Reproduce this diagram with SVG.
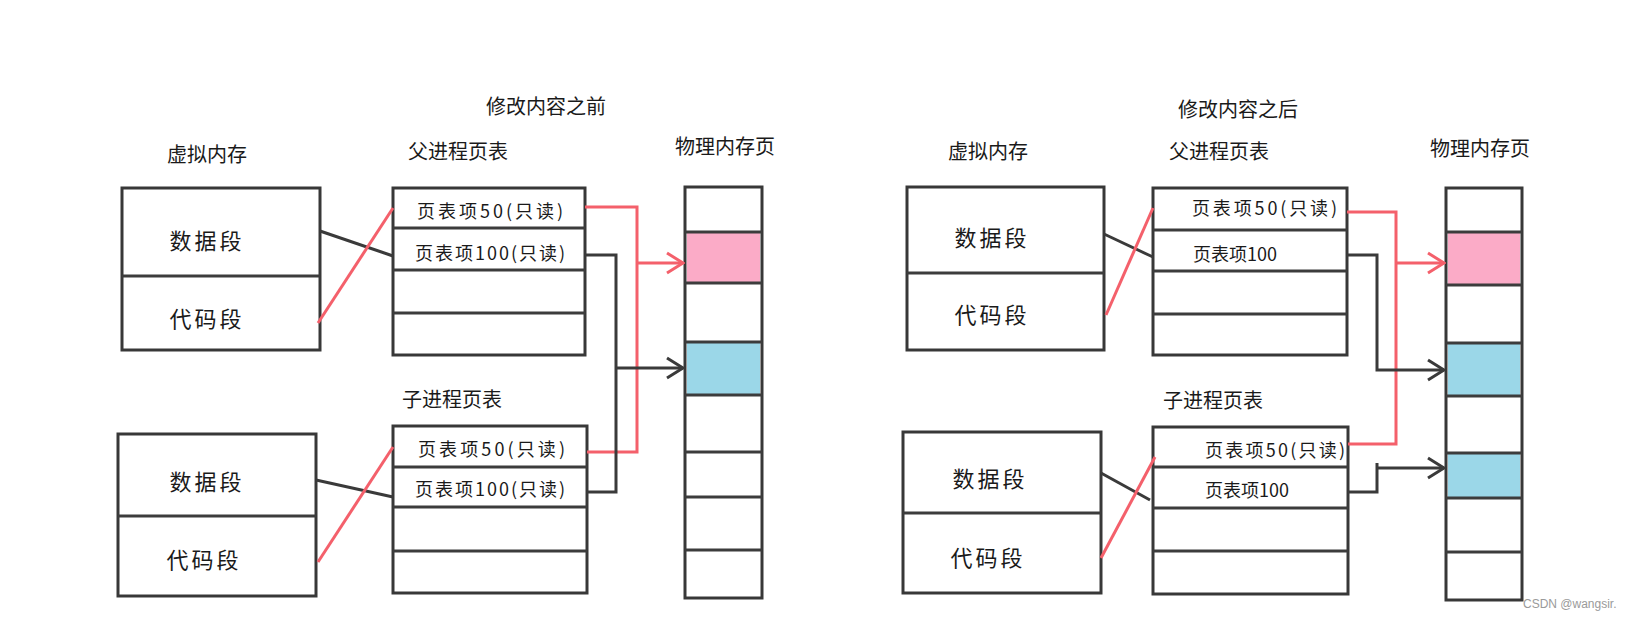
<svg xmlns="http://www.w3.org/2000/svg" width="1638" height="621" viewBox="0 0 1638 621">
<defs>
<style>
.box{fill:#fff;stroke:#383838;stroke-width:3}
.div{stroke:#3c3c3c;stroke-width:3;fill:none}
.t{font-family:"Noto Sans CJK SC","Noto Sans",sans-serif;fill:#1a1a1a;dominant-baseline:central}
.lbl{font-size:20px}
.seg{font-size:22px;letter-spacing:3px;text-anchor:middle}
.ent{font-size:18px}
.blk{stroke:#3a3a3a;stroke-width:3;fill:none}
.red{stroke:#f4606b;stroke-width:3;fill:none}
.pink{fill:#fbabc7}
.blue{fill:#9bd7e8}
</style>
<marker id="ab" viewBox="0 0 20 24" refX="18" refY="12" markerWidth="20" markerHeight="24" markerUnits="userSpaceOnUse" orient="auto">
<polyline points="2,2 18,12 2,22" fill="none" stroke="#3a3a3a" stroke-width="3"/>
</marker>
<marker id="ar" viewBox="0 0 20 24" refX="18" refY="12" markerWidth="20" markerHeight="24" markerUnits="userSpaceOnUse" orient="auto">
<polyline points="2,2 18,12 2,22" fill="none" stroke="#f4606b" stroke-width="3"/>
</marker>
</defs>
<rect width="1638" height="621" fill="#fff"/>

<g id="titles">
<text class="t lbl" x="486" y="105">修改内容之前</text>
<text class="t lbl" x="1178" y="108">修改内容之后</text>
</g>

<g id="vm-before-1">
<text class="t lbl" x="167" y="153">虚拟内存</text>
<rect class="box" x="122" y="188" width="198" height="162"/>
<line class="div" x1="122" y1="276" x2="320" y2="276"/>
<text class="t seg" x="207" y="239">数据段</text>
<text class="t seg" x="207" y="317">代码段</text>
</g>

<g id="pt-before-parent">
<text class="t lbl" x="408" y="150">父进程页表</text>
<rect class="box" x="393" y="188" width="192" height="167"/>
<line class="div" x1="393" y1="228" x2="585" y2="228"/>
<line class="div" x1="393" y1="270" x2="585" y2="270"/>
<line class="div" x1="393" y1="313" x2="585" y2="313"/>
<text class="t ent" x="417" y="210" textLength="146" lengthAdjust="spacing">页表项50(只读)</text>
<text class="t ent" x="415" y="252" textLength="150" lengthAdjust="spacing">页表项100(只读)</text>
</g>

<g id="vm-before-2">
<rect class="box" x="118" y="434" width="198" height="162"/>
<line class="div" x1="118" y1="516" x2="316" y2="516"/>
<text class="t seg" x="207" y="480">数据段</text>
<text class="t seg" x="204" y="558">代码段</text>
</g>

<g id="pt-before-child">
<text class="t lbl" x="402" y="398">子进程页表</text>
<rect class="box" x="393" y="426" width="194" height="167"/>
<line class="div" x1="393" y1="467" x2="587" y2="467"/>
<line class="div" x1="393" y1="507" x2="587" y2="507"/>
<line class="div" x1="393" y1="551" x2="587" y2="551"/>
<text class="t ent" x="418" y="448" textLength="147" lengthAdjust="spacing">页表项50(只读)</text>
<text class="t ent" x="415" y="488" textLength="150" lengthAdjust="spacing">页表项100(只读)</text>
</g>

<g id="phys-before">
<text class="t lbl" x="675" y="145">物理内存页</text>
<rect class="box" x="685" y="187" width="77" height="411"/>
<rect class="pink" x="687" y="232" width="73" height="51"/>
<rect class="blue" x="687" y="342" width="73" height="53"/>
<line class="div" x1="685" y1="232" x2="762" y2="232"/>
<line class="div" x1="685" y1="283" x2="762" y2="283"/>
<line class="div" x1="685" y1="342" x2="762" y2="342"/>
<line class="div" x1="685" y1="395" x2="762" y2="395"/>
<line class="div" x1="685" y1="452" x2="762" y2="452"/>
<line class="div" x1="685" y1="497" x2="762" y2="497"/>
<line class="div" x1="685" y1="550" x2="762" y2="550"/>
</g>

<g id="vm-after-1">
<text class="t lbl" x="948" y="150">虚拟内存</text>
<rect class="box" x="907" y="187" width="197" height="163"/>
<line class="div" x1="907" y1="273" x2="1104" y2="273"/>
<text class="t seg" x="992" y="236">数据段</text>
<text class="t seg" x="992" y="313">代码段</text>
</g>

<g id="pt-after-parent">
<text class="t lbl" x="1169" y="150">父进程页表</text>
<rect class="box" x="1153" y="188" width="194" height="167"/>
<line class="div" x1="1153" y1="230" x2="1347" y2="230"/>
<line class="div" x1="1153" y1="271" x2="1347" y2="271"/>
<line class="div" x1="1153" y1="314" x2="1347" y2="314"/>
<text class="t ent" x="1192" y="207" textLength="145" lengthAdjust="spacing">页表项50(只读)</text>
<text class="t ent" x="1193" y="253">页表项100</text>
</g>

<g id="vm-after-2">
<rect class="box" x="903" y="432" width="198" height="161"/>
<line class="div" x1="903" y1="513" x2="1101" y2="513"/>
<text class="t seg" x="990" y="477">数据段</text>
<text class="t seg" x="988" y="556">代码段</text>
</g>

<g id="pt-after-child">
<text class="t lbl" x="1163" y="399">子进程页表</text>
<rect class="box" x="1153" y="427" width="195" height="167"/>
<line class="div" x1="1153" y1="467" x2="1348" y2="467"/>
<line class="div" x1="1153" y1="508" x2="1348" y2="508"/>
<line class="div" x1="1153" y1="551" x2="1348" y2="551"/>
<text class="t ent" x="1205" y="449" textLength="140" lengthAdjust="spacing">页表项50(只读)</text>
<text class="t ent" x="1205" y="489">页表项100</text>
</g>

<g id="phys-after">
<text class="t lbl" x="1430" y="147">物理内存页</text>
<rect class="box" x="1446" y="188" width="76" height="412"/>
<rect class="pink" x="1448" y="232" width="72" height="53"/>
<rect class="blue" x="1448" y="343" width="72" height="53"/>
<rect class="blue" x="1448" y="453" width="72" height="45"/>
<line class="div" x1="1446" y1="232" x2="1522" y2="232"/>
<line class="div" x1="1446" y1="285" x2="1522" y2="285"/>
<line class="div" x1="1446" y1="343" x2="1522" y2="343"/>
<line class="div" x1="1446" y1="396" x2="1522" y2="396"/>
<line class="div" x1="1446" y1="453" x2="1522" y2="453"/>
<line class="div" x1="1446" y1="498" x2="1522" y2="498"/>
<line class="div" x1="1446" y1="552" x2="1522" y2="552"/>
</g>

<g id="connectors">
<line class="blk" x1="320" y1="231" x2="393" y2="256"/>
<line class="red" x1="318" y1="323" x2="393" y2="208"/>
<line class="blk" x1="316" y1="480" x2="393" y2="497"/>
<line class="red" x1="318" y1="562" x2="393" y2="447"/>
<path class="red" d="M585,207 H637 V452 H587"/>
<line class="red" x1="637" y1="263" x2="683" y2="263" marker-end="url(#ar)"/>
<path class="blk" d="M585,255 H616 V492 H587"/>
<line class="blk" x1="616" y1="368" x2="683" y2="368" marker-end="url(#ab)"/>

<line class="blk" x1="1104" y1="234" x2="1153" y2="257"/>
<line class="red" x1="1106" y1="315" x2="1153" y2="208"/>
<line class="blk" x1="1101" y1="473" x2="1150" y2="500"/>
<line class="red" x1="1101" y1="558" x2="1155" y2="457"/>
<path class="red" d="M1347,212 H1396 V444 H1348"/>
<line class="red" x1="1396" y1="263" x2="1444" y2="263" marker-end="url(#ar)"/>
<path class="blk" d="M1347,255 H1377 V370 H1444" marker-end="url(#ab)"/>
<path class="blk" d="M1348,492 H1377 V463"/>
<line class="blk" x1="1377" y1="468" x2="1444" y2="468" marker-end="url(#ab)"/>
</g>

<text x="1523" y="608" font-family="Liberation Sans, Arial, sans-serif" font-size="12" fill="#9a9a9a">CSDN @wangsir.</text>
</svg>
